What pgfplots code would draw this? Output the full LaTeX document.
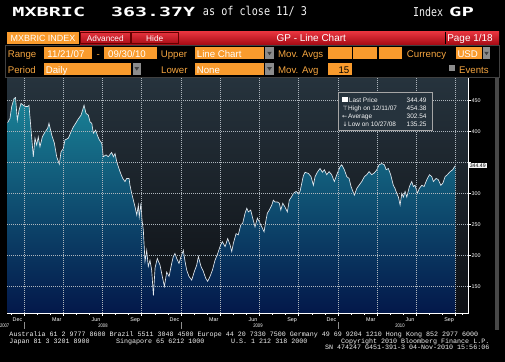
\documentclass[border=0pt]{standalone}
\usepackage{pgfplots}
\pgfplotsset{compat=1.18}
\usepackage{pgfplotstable}
\usepackage{graphicx}
\usepackage{fontspec}
\setmainfont{Liberation Sans}
\newfontfamily\dmono{DejaVu Sans Mono}
\newfontfamily\lmono{Liberation Mono}
\newfontfamily\djv{DejaVu Sans}
\newcommand\fs[1]{\fontsize{#1}{#1}\selectfont}

\definecolor{bbOrange}{HTML}{F99B2D}
\definecolor{bbOrText}{HTML}{F5A540}
\definecolor{bbRedTop}{HTML}{E8343E}
\definecolor{bbRedBot}{HTML}{A80C16}
\definecolor{bgTop}{HTML}{26333D}
\definecolor{bgMid}{HTML}{181E24}
\definecolor{bgBot}{HTML}{0D0F13}
\definecolor{fTop}{HTML}{1A8397}
\definecolor{fMid}{HTML}{0B5576}
\definecolor{fBot}{HTML}{03184A}
\definecolor{gridC}{HTML}{AEB6BD}
\definecolor{arrowG}{HTML}{8C8C8C}
\definecolor{lineC}{HTML}{E4EAF0}

\pgfplotstableread{
m v
-1.25 414
-1.07 421
-0.94 440
-0.76 453
-0.65 454.38
-0.51 418
-0.38 434
-0.23 445
-0.05 442
0.13 440
0.28 440
0.38 442
0.54 402
0.71 359
0.84 389
0.97 378
1.09 391
1.22 375
1.40 391
1.61 399
1.81 405
1.91 413
2.12 394
2.32 381
2.50 359
2.70 347
2.83 367
3.00 372
3.13 386
3.39 389
3.59 399
3.77 407
3.95 413
4.15 420
4.36 426
4.59 442
4.74 429
4.92 426
5.05 415
5.18 413
5.30 397
5.48 402
5.60 394
5.76 386
5.94 381
6.06 359
6.27 362
6.44 359
6.70 366
6.83 359
6.96 364
7.09 351
7.21 343
7.39 332
7.55 324
7.72 319
7.85 324
8.03 324
8.10 313
8.23 300
8.36 289
8.49 278
8.62 265
8.74 281
8.81 262
8.94 284
9.02 257
9.12 241
9.25 190
9.38 208
9.50 182
9.63 192
9.76 176
9.89 135.25
10.02 180
10.19 195
10.40 184
10.57 166
10.73 150
10.91 173
11.09 166
11.29 187
11.41 198
11.54 203
11.67 195
11.85 187
12.00 198
12.18 208
12.31 190
12.44 176
12.61 166
12.82 160
13.02 174
13.20 184
13.33 198
13.53 182
13.71 174
13.89 163
14.04 158
14.22 166
14.40 176
14.60 192
14.81 203
14.98 214
15.16 222
15.37 214
15.57 227
15.75 217
15.88 206
16.00 219
16.21 235
16.38 233
16.57 249
16.72 252
16.90 268
17.03 276
17.15 270
17.33 273
17.48 260
17.66 246
17.84 260
17.99 254
18.17 246
18.35 238
18.50 257
18.60 268
18.75 273
18.94 281
19.06 289
19.19 286
19.37 286
19.52 284
19.63 273
19.78 284
19.95 278
20.13 270
20.28 289
20.47 295
20.59 300
20.80 303
20.97 300
21.10 303
21.23 316
21.35 328
21.48 334
21.74 332
21.94 327
22.12 313
22.25 327
22.45 335
22.63 340
22.81 334
22.96 338
23.14 330
23.32 335
23.52 330
23.72 319
23.91 330
24.16 343
24.29 346
24.49 338
24.67 327
24.85 324
25.00 311
25.25 297
25.44 308
25.61 313
25.82 319
26.02 327
26.20 330
26.38 335
26.58 330
26.78 333
26.97 338
27.14 346
27.35 348
27.55 346
27.68 338
27.85 340
28.03 330
28.23 313
28.36 308
28.49 300
28.62 294
28.75 281
28.88 300
29.00 294
29.13 303
29.26 294
29.46 311
29.64 319
29.76 311
29.89 313
30.07 300
30.22 308
30.41 313
30.58 311
30.79 322
30.99 330
31.17 327
31.29 319
31.50 324
31.67 322
31.86 313
32.01 316
32.19 327
32.36 330
32.57 335
32.77 338
32.85 341
32.97 344.49
}\mxbric

\begin{document}
\begin{tikzpicture}
\useasboundingbox (0,0) rectangle (505bp,362bp);
\clip (0,0) rectangle (505bp,362bp);
\fill[black] (0,0) rectangle (505bp,362bp);
\begin{axis}[
  at={(7bp,49bp)}, anchor=south west,
  width=461bp, height=235bp, scale only axis,
  xmin=-1.30, xmax=33.94, ymin=107, ymax=486,
  axis on top,
  axis background/.style={top color=bgTop, middle color=bgMid, bottom color=bgBot},
  axis line style={draw=none},
  xtick={0,3,...,33},
  xticklabels={},
  minor xtick={-1,1,2,4,5,7,8,10,11,13,14,16,17,19,20,22,23,25,26,28,29,31,32,33.5},
  xtick pos=bottom, ytick pos=right,
  ytick={150,200,250,300,350,400,450},
  yticklabels={150,200,250,300,,400,450},
  yticklabel pos=right,
  tick align=outside,
  major tick length=2.5bp, minor tick length=1.5bp,
  tick style={white, line width=0.5bp},
  grid=major,
  major grid style={gridC, line width=0.7bp, dash pattern=on 0.8bp off 1.2bp},
  extra x ticks={-0.5,2.5,...,32.5},
  extra x tick labels={Dec,Mar,Jun,Sep,Dec,Mar,Jun,Sep,Dec,Mar,Jun,Sep},
  extra x tick style={grid=none, major tick length=0pt, xticklabel style={yshift=-1.5bp}},
  ticklabel style={font=\fs{5.4}, text=white},
  yticklabel style={inner sep=1bp},
  clip mode=individual,
]
\addplot[draw=none, top color=fTop, middle color=fMid, bottom color=fBot]
  table[x=m,y=v]{\mxbric} |- (axis cs:-1.25,107) -- cycle;
\addplot[lineC, line width=0.65bp] table[x=m,y=v]{\mxbric};
\draw[white, line width=0.7bp] (rel axis cs:0,0) -- (rel axis cs:1,0) -- (rel axis cs:1,1);
\end{axis}

\begin{scope}[x=1bp,y=-1bp,yshift=362bp]
% header
\node[anchor=south west, inner sep=0, white] at (12.3,16.7) {\resizebox{72.7bp}{9.3bp}{\dmono\bfseries MXBRIC}};
\node[anchor=south west, inner sep=0, white] at (111,16.7) {\resizebox{84bp}{9.3bp}{\dmono\bfseries 363.37Y}};
\node[anchor=south west, inner sep=0, white!90!gray] at (202.7,16.7) {\resizebox{104bp}{9.3bp}{\dmono as of close 11/ 3}};
\node[anchor=south west, inner sep=0, white!90!gray] at (413,16.7) {\resizebox{30bp}{9.3bp}{\dmono Index}};
\node[anchor=south west, inner sep=0, white] at (449,16.7) {\resizebox{24.7bp}{9.3bp}{\dmono\bfseries GP}};
% red bar
\shade[top color=bbRedTop, bottom color=bbRedBot] (80,31.7) rectangle (499,44.3);
\draw[black!60!red, line width=0.8bp] (80.4,32.1) rectangle (130.3,43.9);
\draw[black!60!red, line width=0.8bp] (131,32.1) rectangle (178.3,43.9);
\draw[black, line width=1bp] (445.8,31.7) -- (445.8,44.3);
\fill[bbOrange] (6.7,31.7) rectangle (79.3,44.3);
\node[anchor=base, inner sep=0, white, font=\fs{9}] at (43,41.5) {MXBRIC INDEX};
\node[anchor=base, inner sep=0, white, font=\fs{8.3}] at (105.3,41.3) {Advanced};
\node[anchor=base, inner sep=0, white, font=\fs{8.3}] at (154.7,41.3) {Hide};
\node[anchor=base, inner sep=0, white, font=\fs{10}] at (311.3,42) {GP - Line Chart};
\node[anchor=base, inner sep=0, white, font=\fs{10}] at (470,42) {Page 1/18};
% control frame
\draw[black!75, line width=0.6bp] (5.7,45.7) rectangle (499,77.7);
% row 2
\begin{scope}[every node/.style={inner sep=0, font=\fs{9.7}}]
\node[anchor=base west, text=bbOrText] at (7.7,57.3) {Range};
\fill[bbOrange] (44,47.3) rectangle (92,59.3);
\node[anchor=base west, white] at (47.3,57.3) {11/21/07};
\node[anchor=base, text=bbOrText] at (98.3,57.3) {-};
\fill[bbOrange] (104,47.3) rectangle (156.7,59.3);
\node[anchor=base west, white] at (108,57.3) {09/30/10};
\node[anchor=base west, text=bbOrText] at (160.7,57.3) {Upper};
\fill[bbOrange] (194.7,47.3) rectangle (264.3,59.3);
\node[anchor=base west, white] at (196.7,57.3) {Line Chart};
\fill[arrowG] (265.3,47.3) rectangle (273.7,59.3);
\fill[black!75] (267.2,51.8) -- (271.8,51.8) -- (269.5,55.2) -- cycle;
\node[anchor=base west, text=bbOrText] at (278,57.3) {Mov. Avgs};
\fill[bbOrange] (328,47.3) rectangle (351.7,59.3);
\fill[bbOrange] (353.3,47.3) rectangle (377,59.3);
\fill[bbOrange] (379,47.3) rectangle (402,59.3);
\node[anchor=base west, text=bbOrText] at (406.7,57.3) {Currency};
\fill[bbOrange] (455.7,47.3) rectangle (481.7,59.3);
\node[anchor=base west, white] at (457.3,57.3) {USD};
\fill[arrowG] (482.7,47.3) rectangle (490.3,59.3);
\fill[black!75] (484.2,51.8) -- (488.8,51.8) -- (486.5,55.2) -- cycle;
% row 3
\node[anchor=base west, text=bbOrText] at (7.7,73.3) {Period};
\fill[bbOrange] (44,62.7) rectangle (131,75.3);
\node[anchor=base west, white] at (45.7,73.3) {Daily};
\fill[arrowG] (132.7,62.7) rectangle (141,75.3);
\fill[black!75] (134.5,67.2) -- (139.1,67.2) -- (136.8,70.6) -- cycle;
\node[anchor=base west, text=bbOrText] at (161,73.3) {Lower};
\fill[bbOrange] (194.7,62.7) rectangle (264.3,75.3);
\node[anchor=base west, white] at (196.7,73.3) {None};
\fill[arrowG] (265.3,62.7) rectangle (273.7,75.3);
\fill[black!75] (267.2,67.2) -- (271.8,67.2) -- (269.5,70.6) -- cycle;
\node[anchor=base west, text=bbOrText] at (278,73.3) {Mov. Avg};
\fill[bbOrange] (328,62.7) rectangle (351.7,75.3);
\node[anchor=base east, black] at (349.5,73.3) {15};
\fill[black!45] (449.3,65) rectangle (455.3,71);
\node[anchor=base west, text=bbOrText] at (459,73.3) {Events};
\end{scope}
% scrollbar
\fill[black!72] (495,78) rectangle (499.3,330);
% legend box
\draw[black!35, line width=0.6bp, fill=bgTop] (338,92.3) rectangle (432.7,130);
\begin{scope}[every node/.style={inner sep=0, font=\fs{6.5}, text=white!92!gray}]
\fill[white] (342.3,97.3) rectangle (347.7,102.3);
\node[anchor=base west] at (348.7,102.3) {Last Price};
\node[anchor=base east] at (426.7,102.3) {344.49};
\node[anchor=base west] at (342.3,110.3) {\djv\fs{6}⊤};
\node[anchor=base west] at (348,110.3) {High on 12/11/07};
\node[anchor=base east] at (426.7,110.3) {454.38};
\node[anchor=base west] at (341.8,118.3) {\djv\fs{6}←};
\node[anchor=base west] at (348,118.3) {Average};
\node[anchor=base east] at (426.7,118.3) {302.54};
\node[anchor=base west] at (342.3,126.3) {\djv\fs{6}↓};
\node[anchor=base west] at (348,126.3) {Low on 10/27/08};
\node[anchor=base east] at (426.7,126.3) {135.25};
\end{scope}
% last price tag
\node[anchor=west, fill=white!92!gray, text=black, inner xsep=1bp, inner ysep=0.6bp, font=\fs{5.2}] at (468.6,165.3) {344.49};
% years
\begin{scope}[every node/.style={inner sep=0, font=\fs{5.2}, text=white}]
\node[anchor=base east] at (9.5,328) {\scalebox{0.8}[1]{2007}};
\node[anchor=base] at (103,328) {\scalebox{0.8}[1]{2008}};
\node[anchor=base] at (258,328) {\scalebox{0.8}[1]{2009}};
\node[anchor=base] at (400,328) {\scalebox{0.8}[1]{2010}};
\end{scope}
\draw[black!45, line width=0.7bp] (24.3,322.5) -- (24.3,329.5);
\draw[black!45, line width=0.7bp] (181.7,322.5) -- (181.7,329.5);
\draw[black!45, line width=0.7bp] (338,322.5) -- (338,329.5);
% footer
\begin{scope}[every node/.style={inner sep=0, font=\lmono\fs{6.7}, text=white!90!gray}]
\node[anchor=base west] at (9.3,336.7) {Australia 61 2 9777 8600 Brazil 5511 3048 4500 Europe 44 20 7330 7500 Germany 49 69 9204 1210 Hong Kong 852 2977 6000};
\node[anchor=base west] at (9.3,343.3) {Japan 81 3 3201 8900};
\node[anchor=base west] at (116,343.3) {Singapore 65 6212 1000};
\node[anchor=base west] at (231,343.3) {U.S. 1 212 318 2000};
\node[anchor=base east] at (489.5,343.3) {Copyright 2010 Bloomberg Finance L.P.};
\node[anchor=base east] at (489.5,350) {SN 474247 G451-391-3 04-Nov-2010 15:56:06};
\end{scope}
\end{scope}
\end{tikzpicture}
\end{document}
